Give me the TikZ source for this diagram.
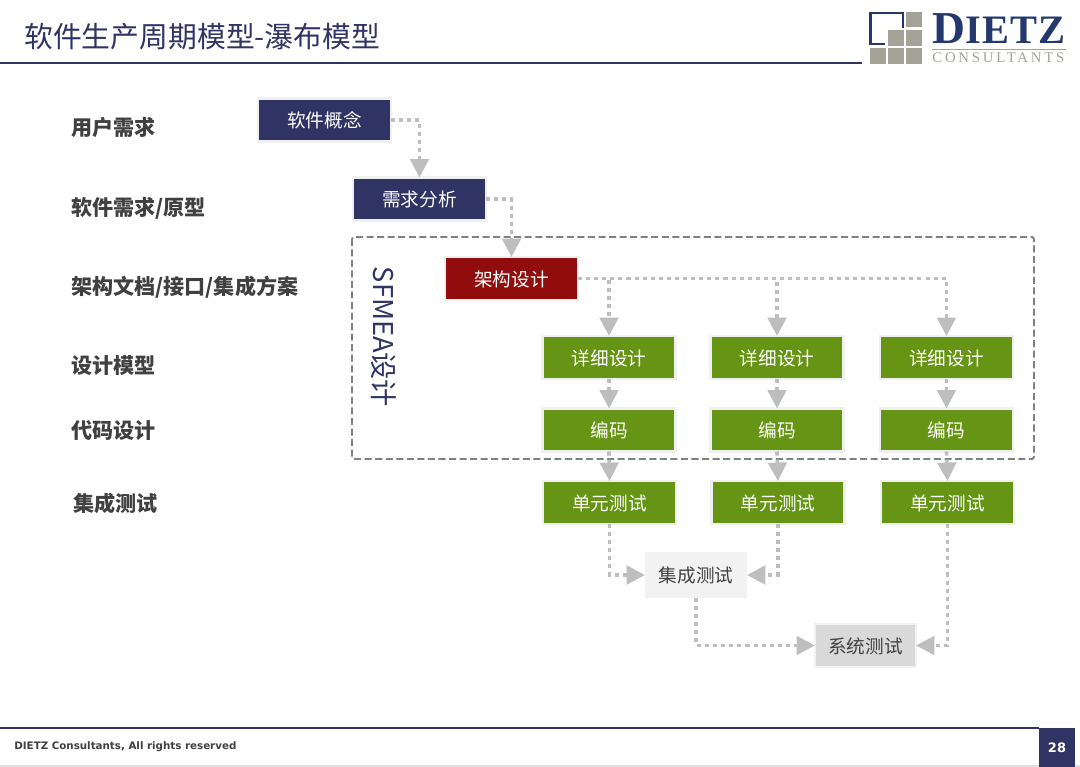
\documentclass[tikz,border=0pt]{standalone}
\usepackage{fontspec}
\setmainfont{Noto Sans CJK SC}
\newfontfamily\footfont{DejaVu Sans}
\newfontfamily\logofont{Liberation Serif}
\usetikzlibrary{arrows.meta}
\definecolor{navy}{HTML}{2F3464}
\definecolor{logoblue}{HTML}{24386E}
\definecolor{darkred}{HTML}{910D0D}
\definecolor{leaf}{HTML}{669414}
\definecolor{flow}{HTML}{BEBEBE}
\definecolor{stone}{HTML}{A5A297}
\definecolor{ink}{HTML}{404040}
\tikzset{
  phase/.style={anchor=west,text=ink,font=\fontsize{12}{14}\selectfont\bfseries},
  stagebox/.style={draw=black!6,fill=#1,line width=1.4pt,text=white,minimum width=2.66cm,
    minimum height=.86cm,inner sep=0pt,outer sep=0pt,text height=10.2pt,text depth=1.2pt,
    font=\fontsize{10.6}{13}\selectfont},
  testbox/.style={fill=#1,text=ink,inner sep=0pt,outer sep=0pt,text height=10.2pt,text depth=1.2pt,
    font=\fontsize{10.6}{13}\selectfont},
  flowline/.style={flow,line width=2.1pt,dash pattern=on 2.3pt off 2.3pt,
    -{Triangle[width=10.5pt,length=10.5pt]}},
}
\begin{document}
\begin{tikzpicture}[x=.02cm,y=-.02cm]
  \useasboundingbox (0,0) rectangle (1080,767);
  \node[anchor=west,text=navy,inner sep=0pt,font=\fontsize{16.4}{20}\selectfont] (title) at (24,37) {软件生产周期模型-瀑布模型};
  \draw[navy,line width=.9pt] (0,63) -- (862,63);
  \draw[logoblue,line width=1.6pt] (885,44) -- (870.5,44) -- (870.5,13) -- (903,13) -- (903,28);
  \foreach \cx/\cy in {2/0,1/1,2/1,0/2,1/2,2/2}
    \fill[stone] (869.5+18.3*\cx,12+18.2*\cy) rectangle +(16,15.5);
  \node[anchor=base west,text=logoblue,inner sep=0pt,font=\logofont\bfseries] (dietz) at (932,43.5)
    {\fontsize{26}{26}\selectfont D\fontsize{23}{23}\selectfont\addfontfeature{LetterSpace=2.5}IETZ};
  \draw[stone,line width=.5pt] (932,49.5) -- (1066,49.5);
  \node[anchor=base west,text=stone,inner sep=0pt,font=\logofont] (consult) at (932,62.5)
    {\fontsize{8.4}{9}\selectfont\addfontfeature{LetterSpace=19}CONSULTANTS};

  \node[phase] (p1) at (65,128) {用户需求};
  \node[phase] (p2) at (65,208) {软件需求/原型};
  \node[phase] (p3) at (65,287) {架构文档/接口/集成方案};
  \node[phase] (p4) at (65,366) {设计模型};
  \node[phase] (p5) at (65,431) {代码设计};
  \node[phase] (p6) at (67,503) {集成测试};

  \draw[black!50,line width=1.1pt,dash pattern=on 4pt off 2pt,rounded corners=1pt]
    (352,237) rectangle (1034,459);
  \node[rotate=-90,text=navy,inner sep=0pt,font=\fontsize{15.5}{18}\selectfont] (sfmea) at (384,337) {SFMEA设计};

  \node[stagebox=navy] (concept) at (324.5,120) {软件概念};
  \node[stagebox=navy] (req) at (419.5,199) {需求分析};
  \node[stagebox=darkred] (arch) at (511.5,278.5) {架构设计};
  \foreach \n/\xa/\xb in {1/609/609.5,2/777/778,3/946.5/947.5}{
    \node[stagebox=leaf] (det\n) at (\xa,357.5) {详细设计};
    \node[stagebox=leaf] (code\n) at (\xa,430) {编码};
    \node[stagebox=leaf] (unit\n) at (\xb,502.5) {单元测试};
  }
  \node[testbox=black!5,minimum width=2.04cm,minimum height=.92cm] (integ) at (696,575) {集成测试};
  \node[testbox=black!15,draw=black!5,line width=1.4pt,minimum width=2.02cm,minimum height=.86cm] (sys) at (865.5,645.5) {系统测试};

  \draw[flowline] (concept.east) -| (req.north);
  \draw[flowline] (req.east) -| (arch.north);
  \foreach \n in {1,2,3}{
    \draw[flowline] (arch.east) -| (det\n.north);
    \draw[flowline] (det\n.south) -- (code\n.north);
    \draw[flowline] (code\n.south) -- (unit\n.north);
  }
  \draw[flowline] (unit1.south) |- (integ.west);
  \draw[flowline] (unit2.south) |- (integ.east);
  \draw[flowline] (integ.south) |- (sys.west);
  \draw[flowline] (unit3.south) |- (sys.east);

  \draw[navy,line width=.9pt] (0,728) -- (1039,728);
  \draw[black!12,line width=1.1pt] (0,766) -- (1080,766);
  \node[anchor=west,inner sep=0pt,text=ink,font=\footfont\fontsize{5.86}{8}\selectfont\bfseries] (foot) at (14,747) {DIETZ Consultants, All rights reserved};
  \node[fill=navy,text=white,inner sep=0pt,outer sep=0pt,minimum width=.72cm,minimum height=.78cm,
    font=\footfont\fontsize{7.4}{9}\selectfont\bfseries] (page) at (1057,747.5) {28};
\end{tikzpicture}
\end{document}
